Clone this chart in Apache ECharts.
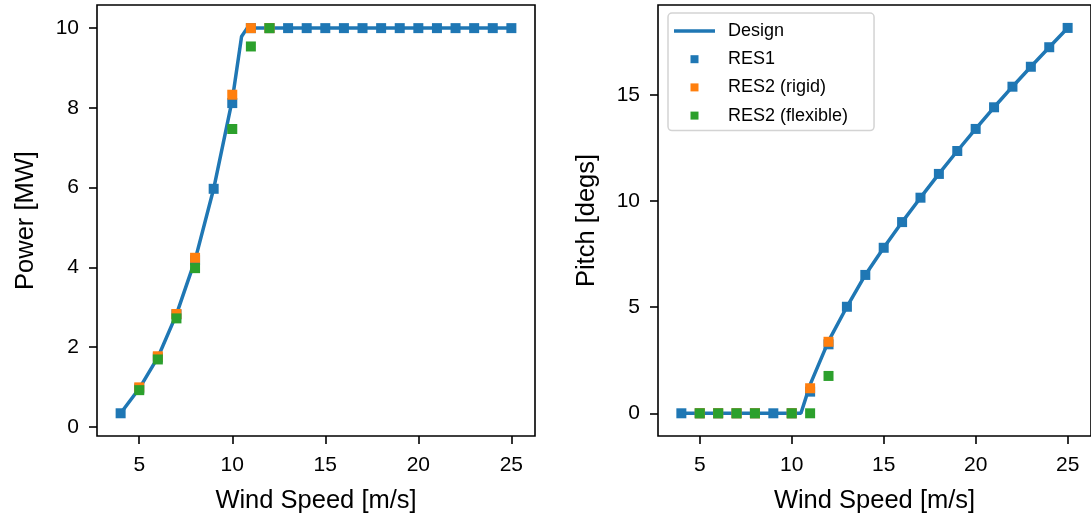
<!DOCTYPE html>
<html>
<head>
<meta charset="utf-8">
<script src="https://cdn.jsdelivr.net/npm/echarts@6/dist/echarts.min.js"></script>
<style>html,body{margin:0;padding:0;background:#fff;}#c{width:1091px;height:519px;}</style>
</head>
<body>
<div id="c"></div>
<script>
// ---- data ----
const xTicks = [5, 10, 15, 20, 25];
const powerTicks = [0, 2, 4, 6, 8, 10];
const pitchTicks = [0, 5, 10, 15];

const designPowerSpeed = [4, 5, 6, 7, 8, 9, 10, 10.5, 10.8, 11, 12, 13, 14, 15, 16, 17, 18, 19, 20, 21, 22, 23, 24, 25];
const designPower = [0.34, 0.96, 1.74, 2.82, 4.18, 5.97, 8.2, 9.79, 10, 10, 10, 10, 10, 10, 10, 10, 10, 10, 10, 10, 10, 10, 10, 10];

const designPitchSpeed = [4, 5, 6, 7, 8, 9, 10, 10.5, 11, 12, 13, 14, 15, 16, 17, 18, 19, 20, 21, 22, 23, 24, 25];
const designPitch = [0, 0, 0, 0, 0, 0, 0, 0, 1.35, 3.4, 5.02, 6.52, 7.8, 9.01, 10.16, 11.28, 12.36, 13.4, 14.42, 15.39, 16.33, 17.25, 18.16];

const res1Speed = [4, 5, 6, 7, 8, 9, 10, 11, 12, 13, 14, 15, 16, 17, 18, 19, 20, 21, 22, 23, 24, 25];
const res1Power = [0.34, 0.96, 1.74, 2.82, 4.18, 5.97, 8.12, 10, 10, 10, 10, 10, 10, 10, 10, 10, 10, 10, 10, 10, 10, 10];
const res1Pitch = [0, 0, 0, 0, 0, 0, 0, 1.02, 3.25, 5.02, 6.52, 7.8, 9.01, 10.16, 11.28, 12.36, 13.4, 14.42, 15.39, 16.33, 17.25, 18.16];

const res2Speed = [5, 6, 7, 8, 10, 11, 12];
const rigidPower = [0.99, 1.77, 2.83, 4.24, 8.33, 10, 10];
const rigidPitch = [0, 0, 0, 0, 0, 1.18, 3.37];
const flexPower = [0.92, 1.69, 2.72, 3.98, 7.47, 9.54, 10];
const flexPitch = [0, 0, 0, 0, 0, 0, 1.76];

const legendNames = ['Design', 'RES1', 'RES2 (rigid)', 'RES2 (flexible)'];

// ---- helpers ----
const zip = (xs, ys) => xs.map((x, i) => [x, ys[i]]);
const FONT = '"Liberation Sans", Arial, Helvetica, sans-serif';
const C1 = '#1f77b4', C2 = '#ff7f0e', C3 = '#2ca02c';

function xAxisCfg(gi) {
  return {
    type: 'value', gridIndex: gi, min: 2.73, max: 26.27,
    name: 'Wind Speed [m/s]', nameLocation: 'middle', nameGap: 52,
    nameTextStyle: {fontFamily: FONT, fontSize: 25.5, color: '#000'},
    axisLine: {show: false, onZero: false},
    axisTick: {show: true, inside: false, length: 8, lineStyle: {color: '#000', width: 1.6}, customValues: xTicks},
    axisLabel: {fontFamily: FONT, fontSize: 21, color: '#000', margin: 19, customValues: xTicks},
    splitLine: {show: false}
  };
}
function yAxisCfg(gi, name, min, max, ticks) {
  return {
    type: 'value', gridIndex: gi, min: min, max: max,
    name: name, nameLocation: 'middle', nameRotate: 90, nameGap: 58,
    nameTextStyle: {fontFamily: FONT, fontSize: 25.5, color: '#000'},
    axisLine: {show: false, onZero: false},
    axisTick: {show: true, inside: false, length: 8, lineStyle: {color: '#000', width: 1.6}, customValues: ticks},
    axisLabel: {fontFamily: FONT, fontSize: 21, color: '#000', margin: 18, customValues: ticks},
    splitLine: {show: false}
  };
}
function lineSeries(gi, data) {
  return {name: 'Design', type: 'line', xAxisIndex: gi, yAxisIndex: gi, data: data,
    symbol: 'none', lineStyle: {color: C1, width: 3.5}, itemStyle: {color: C1}, z: 2, animation: false};
}
function scatterSeries(gi, name, color, data) {
  return {name: name, type: 'scatter', xAxisIndex: gi, yAxisIndex: gi, data: data,
    symbol: 'rect', symbolSize: 10, itemStyle: {color: color, opacity: 1}, z: 3, animation: false};
}

const chart = echarts.init(document.getElementById('c'), null, {renderer: 'canvas'});
chart.setOption({
  backgroundColor: '#fff',
  animation: false,
  grid: [
    {left: 97, top: 5, width: 438, height: 431, show: true, borderColor: '#000', borderWidth: 1.6, backgroundColor: 'transparent'},
    {left: 658, top: 5, width: 438, height: 431, show: true, borderColor: '#000', borderWidth: 1.6, backgroundColor: 'transparent'}
  ],
  xAxis: [xAxisCfg(0), xAxisCfg(1)],
  yAxis: [
    yAxisCfg(0, 'Power [MW]', -0.23, 10.58, powerTicks),
    yAxisCfg(1, 'Pitch [degs]', -1.07, 19.24, pitchTicks)
  ],
  legend: {
    orient: 'vertical', left: 668, top: 13,
    padding: [9, 26, 6, 6],
    itemWidth: 41, itemHeight: 8, itemGap: 10.2,
    selectedMode: false, symbolKeepAspect: true,
    backgroundColor: 'rgba(255,255,255,0.8)', borderColor: '#d3d3d3', borderWidth: 1.5, borderRadius: 4,
    textStyle: {fontFamily: FONT, fontSize: 18, color: '#000', padding: [0, 0, 0, 8]},
    data: [
      {name: legendNames[0], icon: 'path://M0,0H41V3.4H0Z', itemStyle: {color: C1}},
      {name: legendNames[1], icon: 'path://M0,0H1V1H0Z', itemStyle: {color: C1}},
      {name: legendNames[2], icon: 'path://M0,0H1V1H0Z', itemStyle: {color: C2}},
      {name: legendNames[3], icon: 'path://M0,0H1V1H0Z', itemStyle: {color: C3}}
    ]
  },
  series: [
    lineSeries(0, zip(designPowerSpeed, designPower)),
    scatterSeries(0, legendNames[1], C1, zip(res1Speed, res1Power)),
    scatterSeries(0, legendNames[2], C2, zip(res2Speed, rigidPower)),
    scatterSeries(0, legendNames[3], C3, zip(res2Speed, flexPower)),
    lineSeries(1, zip(designPitchSpeed, designPitch)),
    scatterSeries(1, legendNames[1], C1, zip(res1Speed, res1Pitch)),
    scatterSeries(1, legendNames[2], C2, zip(res2Speed, rigidPitch)),
    scatterSeries(1, legendNames[3], C3, zip(res2Speed, flexPitch))
  ]
});
</script>
</body>
</html>
